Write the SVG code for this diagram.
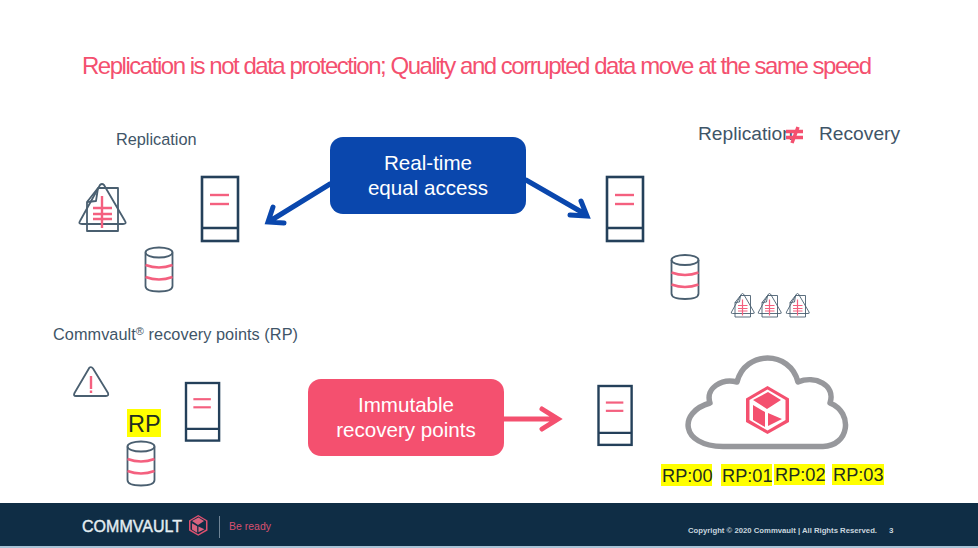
<svg xmlns="http://www.w3.org/2000/svg" width="978" height="548" viewBox="0 0 978 548">
<style>
text{font-family:"Liberation Sans",Arial,sans-serif}
.dk{fill:none;stroke:#24405a;stroke-width:2.6}
.gy{fill:none;stroke:#4a5f70;stroke-width:1.8;stroke-linejoin:round}
.pk{fill:none;stroke:#f4607f;stroke-width:2.400}
.lbl{fill:#3f5568;font-size:16.300px}
.rp{fill:#1f2f20;font-size:18.200px}
.hl{fill:#ffff00}
.box{fill:#fff;font-size:20.600px;text-anchor:middle}
.arrow{fill:none;stroke-width:5;stroke-linecap:round;stroke-linejoin:miter}
</style>
<defs>
<g id="server">
<rect class="dk" x="0" y="0" width="36" height="64"/>
<line class="dk" x1="0" y1="51" x2="36" y2="51"/>
<line class="pk" x1="8" y1="18" x2="27" y2="18"/>
<line class="pk" x1="8" y1="27" x2="27" y2="27"/>
</g>
<g id="db">
<ellipse class="gy" cx="14" cy="5.500" rx="13.500" ry="5"/>
<path class="gy" d="M.5 5.500V39Q.5 44.500 14 44.500T27.500 39V5.500"/>
<path class="pk" d="M.5 18Q14 23 27.500 18M.5 30Q14 35 27.500 30"/>
</g>
<g id="warn">
<path class="gy" d="M15.500 1.500Q17.500 .5 19 2.500L34 27Q35 30 32 30H2Q-1 30 .5 27Z"/>
<line class="pk" x1="17" y1="10" x2="17" y2="23" stroke-width="2.800"/>
<line class="pk" x1="17" y1="24.500" x2="17" y2="27" stroke-width="2.800"/>
</g>
<g id="docwarn">
<path class="gy" d="M19 5H39V48H8V19Z"/>
<path class="gy" d="M21 2Q23 0 25 2L46 38Q48 41 44 41H3Q-1 41 1 38Z"/>
<path class="gy" d="M8 19L17 18L19 5"/>
<line class="pk" x1="23" y1="13" x2="23" y2="45" stroke-width="3.400"/>
<path class="pk" d="M14 25H33M14 31H33M14 36H33"/>
</g>
<path id="hex" d="M21.500 0L43 12.500V36L21.500 48L0 36V12.500Z"/>
<path id="hex-in" d="M21.500 3.500L39.500 14V34L21.500 44.500L3.500 34V14Z"/>
<path id="faces" d="M7 14L22 6L35 14L21 23ZM7 19L19 26V41L7 34ZM22 27V40L36 33Z"/>
</defs>
<rect width="978" height="548" fill="#fff"/>
<text id="title" x="82" y="74" font-size="24" fill="#f4506f" textLength="790" lengthAdjust="spacing">Replication is not data protection; Quality and corrupted data move at the same speed</text>
<g id="label-replication"><text class="lbl" x="116" y="145">Replication</text></g>
<g id="label-neq">
<text x="698" y="140" font-size="19.200" fill="#3f5568">Replication</text>
<text x="819" y="140" font-size="19.200" fill="#3f5568">Recovery</text>
<path d="M786 131.500H803M786 137.500H803M792 143L798 127" fill="none" stroke="#f4506f" stroke-width="3.500"/>
</g>
<g id="label-rp"><text class="lbl" x="53" y="340" textLength="245" lengthAdjust="spacing">Commvault<tspan font-size="11" dy="-5">®</tspan><tspan dy="5"> recovery points (RP)</tspan></text></g>
<g id="connectors">
<path class="arrow" stroke="#0a47ad" d="M330 184L270 221M273 207L268 222L284 223"/>
<path class="arrow" stroke="#0a47ad" d="M526 180L585 214M570 215L587 216L581 201"/>
<path class="arrow" stroke="#f4506f" d="M504 419H556M542 409L558 419L542 429" stroke-width="4"/>
</g>
<g id="node-realtime">
<rect x="330" y="137" width="196" height="77" rx="13" fill="#0a47ad"/>
<text class="box" x="428" y="170">Real-time</text>
<text class="box" x="428" y="195">equal access</text>
</g>
<g id="node-immutable">
<rect x="308" y="379" width="196" height="77" rx="13" fill="#f4506f"/>
<text class="box" x="406" y="412">Immutable</text>
<text class="box" x="406" y="437">recovery points</text>
</g>
<g id="docwarn-main"><use href="#docwarn" x="79" y="183"/></g>
<g id="server-1"><use href="#server" x="202" y="177"/></g>
<g id="db-1"><use href="#db" x="145" y="247"/></g>
<g id="server-2"><use href="#server" x="607" y="177"/></g>
<g id="db-2"><use href="#db" x="671" y="254.500"/></g>
<g id="docwarn-1"><use href="#docwarn" transform="translate(731 293) scale(.5)"/></g>
<g id="docwarn-2"><use href="#docwarn" transform="translate(758 293) scale(.5)"/></g>
<g id="docwarn-3"><use href="#docwarn" transform="translate(786 293) scale(.5)"/></g>
<g id="warn-1"><use href="#warn" x="74" y="366"/></g>
<g id="rp-label">
<rect class="hl" x="127" y="409" width="34" height="28"/>
<text x="128" y="432" font-size="23.500" fill="#1f2f20">RP</text>
</g>
<g id="server-3"><use href="#server" transform="translate(186 383) scale(.92 .9)"/></g>
<g id="db-3"><use href="#db" x="127" y="441"/></g>
<g id="server-4"><use href="#server" transform="translate(598.500 386) scale(.92 .92)"/></g>
<g id="cloud">
<path fill="#fff" stroke="#97989c" stroke-width="5.500" stroke-linejoin="round" d="M723 446.500H823C849 446 854 413 830 403C836 385 815 375 798 382C790 350 745 350 737 382C722 378 705 388 710 403C678 412 680 446 723 446.500Z"/>
<g transform="translate(746 386)">
<use href="#hex" fill="#f4506f"/><use href="#hex-in" fill="#fff"/><use href="#faces" fill="#f4506f"/>
</g>
</g>
<g id="rp-00"><rect class="hl" x="661" y="464" width="51" height="22"/><text class="rp" x="662" y="482">RP:00</text></g>
<g id="rp-01"><rect class="hl" x="721" y="464" width="51" height="22"/><text class="rp" x="722" y="482">RP:01</text></g>
<g id="rp-02"><rect class="hl" x="774" y="464" width="51" height="21"/><text class="rp" x="775" y="481">RP:02</text></g>
<g id="rp-03"><rect class="hl" x="832" y="464" width="52" height="21"/><text class="rp" x="833" y="481">RP:03</text></g>
<g id="footer">
<rect y="503" width="978" height="43" fill="#0f2d45"/>
<rect y="546" width="978" height="2" fill="#a9c3d6"/>
<text x="82" y="532" font-size="16" fill="#e4eef2" stroke="#e4eef2" stroke-width=".4" textLength="100" lengthAdjust="spacingAndGlyphs">COMMVAULT</text>
<g transform="translate(189 515) scale(.43)">
<use href="#hex" fill="#e0506f"/><use href="#hex-in" fill="#0f2d45"/><use href="#faces" fill="#d8637f"/>
</g>
<line x1="219.500" y1="516" x2="219.500" y2="538" stroke="#6f8496"/>
<text x="229" y="530" font-size="10.500" fill="#d8506f">Be ready</text>
<text x="688" y="532.500" font-size="8" font-weight="bold" fill="#c9d6df" textLength="189" lengthAdjust="spacingAndGlyphs">Copyright © 2020 Commvault | All Rights Reserved.</text>
<text x="889" y="532.500" font-size="8" font-weight="bold" fill="#c9d6df">3</text>
</g>
</svg>
